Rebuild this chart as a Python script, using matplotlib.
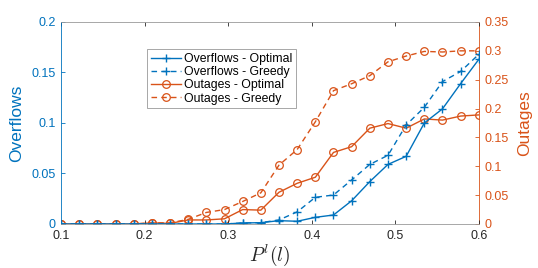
import numpy as np
import matplotlib
matplotlib.use("Agg")
import matplotlib.pyplot as plt

plt.rcParams['font.family'] = ['Liberation Sans', 'DejaVu Sans']
plt.rcParams['mathtext.fontset'] = 'cm'

x = np.linspace(0.1, 0.6, 24)

overflows_optimal = [0, 0, 0, 0, 0, 0, 0, 0, 0, 0, 0.001, 0.0013, 0.0033, 0.0027, 0.0066, 0.0089,
                     0.023, 0.042, 0.059, 0.067, 0.100, 0.114, 0.139, 0.163]
overflows_greedy = [0, 0, 0, 0, 0, 0, 0, 0, 0, 0, 0.001, 0.0013, 0.004, 0.012, 0.0264, 0.0287,
                    0.0436, 0.059, 0.068, 0.098, 0.1155, 0.141, 0.151, 0.168]
outages_optimal = [0, 0, 0, 0, 0, 0.002, 0.001, 0.007, 0.007, 0.009, 0.025, 0.024, 0.055, 0.0705,
                   0.081, 0.124, 0.134, 0.166, 0.174, 0.166, 0.182, 0.180, 0.187, 0.189]
outages_greedy = [0, 0, 0, 0, 0, 0.002, 0.002, 0.008, 0.020, 0.025, 0.039, 0.054, 0.102, 0.129,
                  0.177, 0.231, 0.243, 0.257, 0.281, 0.291, 0.299, 0.298, 0.300, 0.300]

BLUE = "#0072BD"
ORANGE = "#D95319"
GREY = "#262626"

fig = plt.figure(figsize=(5.38, 2.68), dpi=100)
ax = fig.add_axes([0.1134, 0.1642, 0.7766, 0.7538])
ax2 = ax.twinx()

l1, = ax.plot(x, overflows_optimal, '-', color=BLUE, lw=1.0, marker='+', ms=6, mew=1.0,
              label='Overflows - Optimal')
l2, = ax.plot(x, overflows_greedy, '--', color=BLUE, lw=1.0, marker='+', ms=6, mew=1.0,
              label='Overflows - Greedy', dashes=(4, 3))
l3, = ax2.plot(x, outages_optimal, '-', color=ORANGE, lw=1.0, marker='o', ms=5.5, mfc='none',
               mew=0.9, label='Outages - Optimal')
l4, = ax2.plot(x, outages_greedy, '--', color=ORANGE, lw=1.0, marker='o', ms=5.5, mfc='none',
               mew=0.9, label='Outages - Greedy', dashes=(4, 3))

ax.set_xlim(0.1, 0.6)
ax.set_ylim(0, 0.2)
ax2.set_ylim(0, 0.35)
ax.set_xticks([0.1, 0.2, 0.3, 0.4, 0.5, 0.6])
ax.set_xticklabels(['0.1', '0.2', '0.3', '0.4', '0.5', '0.6'])
ax.set_yticks([0, 0.05, 0.1, 0.15, 0.2])
ax.set_yticklabels(['0', '0.05', '0.1', '0.15', '0.2'])
ax2.set_yticks([0, 0.05, 0.1, 0.15, 0.2, 0.25, 0.3, 0.35])
ax2.set_yticklabels(['0', '0.05', '0.1', '0.15', '0.2', '0.25', '0.3', '0.35'])

ax.tick_params(axis='x', direction='in', top=True, labelsize=9, colors=GREY, length=3, width=0.6, pad=4)
ax.tick_params(axis='y', direction='in', labelsize=9, colors=BLUE, length=3, width=0.6, pad=4)
ax2.tick_params(axis='y', direction='in', labelsize=9, colors=ORANGE, length=3, width=0.6, pad=4)

for sp in ['top', 'bottom']:
    ax.spines[sp].set_color('#999999')
    ax.spines[sp].set_linewidth(0.6)
    ax2.spines[sp].set_visible(False)
ax.spines['left'].set_color(BLUE)
ax.spines['left'].set_linewidth(0.6)
ax.spines['right'].set_visible(False)
ax2.spines['left'].set_visible(False)
ax2.spines['right'].set_color(ORANGE)
ax2.spines['right'].set_linewidth(0.6)

ax.set_ylabel('Overflows', color=BLUE, fontsize=12.5, labelpad=5)
ax2.set_ylabel('Outages', color=ORANGE, fontsize=12.5, labelpad=6)
ax.set_xlabel('$P^l(l)$', fontsize=14, color=GREY, labelpad=1)

leg = ax.legend(handles=[l1, l2, l3, l4], loc='upper left', bbox_to_anchor=(0.206, 0.865),
                fontsize=8.8, frameon=True, fancybox=False, edgecolor='#7f7f7f',
                handlelength=2.5, handletextpad=0.2, labelspacing=0.1, borderpad=0.3,
                borderaxespad=0)
leg.get_frame().set_linewidth(0.6)
ax.set_zorder(ax2.get_zorder() + 1)
ax.patch.set_visible(False)

fig.savefig('out.png', dpi=100)
